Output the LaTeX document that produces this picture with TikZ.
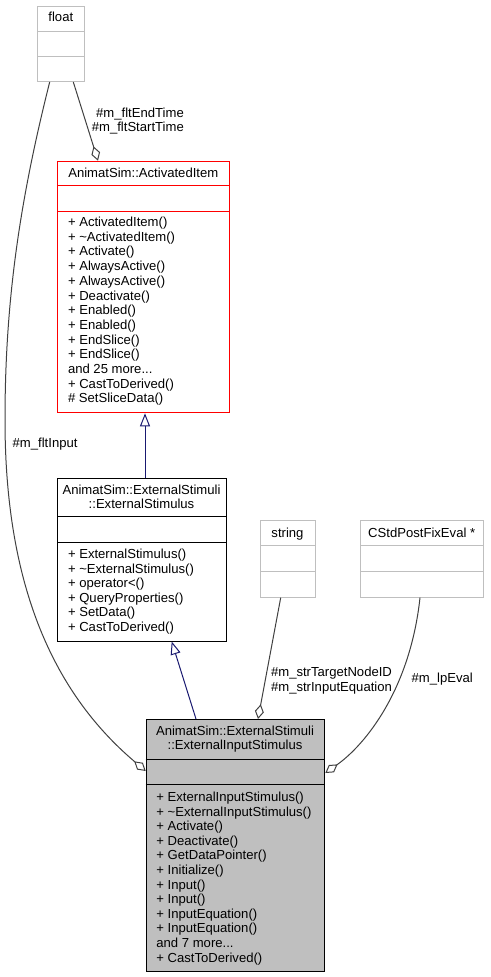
\documentclass[tikz,border=0pt]{standalone}
\usepackage{fontspec}
\setmainfont{Liberation Sans}
\usetikzlibrary{arrows.meta}
\definecolor{edgegray}{HTML}{404040}
\definecolor{boxgray}{HTML}{BFBFBF}
\definecolor{navyline}{HTML}{191970}
\definecolor{redline}{HTML}{FF0000}
\newcommand\mydots{...}
\begin{document}
\begin{tikzpicture}[x=1pt,y=-1pt,
  every node/.style={font=\fontsize{13.1}{14.7}\selectfont},
  classbox/.style={draw, line width=1pt, inner sep=0pt, anchor=north west},
  member/.style={anchor=base west, inner sep=0pt},
  ctitle/.style={anchor=base, inner sep=0pt},
  assoc/.style={draw=edgegray, line width=1pt, -{Diamond[open,length=15pt,width=9pt]}},
  inherit/.style={draw=navyline, line width=1pt, -{Triangle[open,length=13pt,width=10pt]}},
  elabel/.style={inner sep=0pt}]
\useasboundingbox (0,0) rectangle (490,977);

% float
\node[classbox, draw=boxgray, minimum width=47pt, minimum height=75.3pt] (float) at (37.3,5.7) {};
\draw[boxgray, line width=1pt] (37.3,31.3) -- (84.3,31.3) (37.3,56.7) -- (84.3,56.7);
\node[ctitle] (floatt) at (60.8,21.8) {float};

% ActivatedItem
\node[classbox, draw=redline, minimum width=172pt, minimum height=251.6pt] (act) at (57.3,160.7) {};
\draw[redline, line width=1pt] (57.3,185.7) -- (229.3,185.7) (57.3,211) -- (229.3,211);
\node[ctitle] (actt) at (143.3,177.8) {AnimatSim::ActivatedItem};
\foreach \t [count=\i from 0] in {{+ ActivatedItem()},{+ \textasciitilde ActivatedItem()},{+ Activate()},{+ AlwaysActive()},{+ AlwaysActive()},{+ Deactivate()},{+ Enabled()},{+ Enabled()},{+ EndSlice()},{+ EndSlice()},{and 25 more\mydots},{+ CastToDerived()},{\# SetSliceData()}}
  \node[member] (actm\i) at (67.8,{226.5+14.7*\i}) {\t};

% ExternalStimulus
\node[classbox, draw=black, minimum width=168.4pt, minimum height=163pt] (ext) at (57.3,477.5) {};
\draw[black, line width=1pt] (57.3,516.7) -- (225.7,516.7) (57.3,542) -- (225.7,542);
\node[ctitle] (extt1) at (141.5,494) {AnimatSim::ExternalStimuli};
\node[ctitle] (extt2) at (141.5,508.7) {::ExternalStimulus};
\foreach \t [count=\i from 0] in {{+ ExternalStimulus()},{+ \textasciitilde ExternalStimulus()},{+ operator<()},{+ QueryProperties()},{+ SetData()},{+ CastToDerived()}}
  \node[member] (extm\i) at (67.8,{558.5+14.6*\i}) {\t};

% string
\node[classbox, draw=boxgray, minimum width=55pt, minimum height=76.7pt] (str) at (260,520) {};
\draw[boxgray, line width=1pt] (260,545.7) -- (315,545.7) (260,571.3) -- (315,571.3);
\node[ctitle] (strt) at (287.5,537.8) {string};

% CStdPostFixEval
\node[classbox, draw=boxgray, minimum width=123.3pt, minimum height=76.7pt] (cstd) at (360,520) {};
\draw[boxgray, line width=1pt] (360,545.7) -- (483.3,545.7) (360,571.3) -- (483.3,571.3);
\node[ctitle] (cstdt) at (421.7,537.8) {CStdPostFixEval *};

% ExternalInputStimulus
\node[classbox, draw=black, fill=boxgray, minimum width=178.6pt, minimum height=252pt] (inp) at (145.7,719) {};
\draw[black, line width=1pt] (145.7,759) -- (324.3,759) (145.7,784) -- (324.3,784);
\node[ctitle] (inpt1) at (235,735.5) {AnimatSim::ExternalStimuli};
\node[ctitle] (inpt2) at (235,749.5) {::ExternalInputStimulus};
\foreach \t [count=\i from 0] in {{+ ExternalInputStimulus()},{+ \textasciitilde ExternalInputStimulus()},{+ Activate()},{+ Deactivate()},{+ GetDataPointer()},{+ Initialize()},{+ Input()},{+ Input()},{+ InputEquation()},{+ InputEquation()},{and 7 more\mydots},{+ CastToDerived()}}
  \node[member] (inpm\i) at (156.2,{801.5+14.6*\i}) {\t};

% connectors
\draw[assoc] ([xshift=36pt]float.south west) -- ([xshift=40.7pt]act.north west);
\node[elabel, anchor=base east] (l1) at (184,117) {\#m\_fltEndTime};
\node[elabel, anchor=base east] (l2) at (184,131.8) {\#m\_fltStartTime};

\draw[assoc] ([xshift=12.4pt]float.south west) .. controls (20,200) and (5,300) .. (5,420)
  .. controls (5,580) and (50,690) .. ([yshift=-52pt]inp.north west);
\node[elabel, anchor=base west] (l3) at (12.5,447.8) {\#m\_fltInput};

\draw[inherit] ([xshift=87.7pt]ext.north west) -- ([xshift=87.7pt]act.south west);
\draw[inherit] ([xshift=50.3pt]inp.north west) -- ([xshift=114.4pt]ext.south west);

\draw[assoc] ([xshift=20.7pt]str.south west) -- ([xshift=112.3pt]inp.north west);
\node[elabel, anchor=base] (l4) at (331.5,676.8) {\#m\_strTargetNodeID};
\node[elabel, anchor=base] (l5) at (331.5,691.2) {\#m\_strInputEquation};

\draw[assoc] ([xshift=60pt]cstd.south west) .. controls (410,690) and (365,745) .. ([yshift=-54pt]inp.north east);
\node[elabel, anchor=base west] (l6) at (411.5,682.8) {\#m\_lpEval};
\end{tikzpicture}
\end{document}
